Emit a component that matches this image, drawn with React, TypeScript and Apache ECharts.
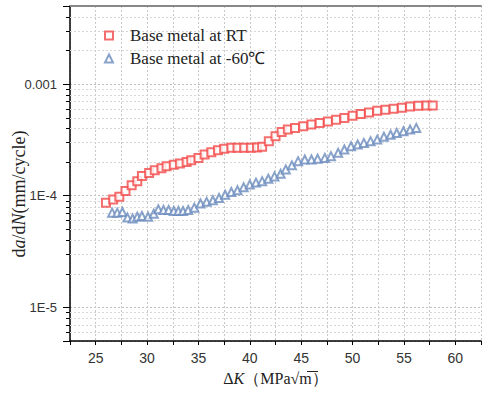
import React, { useEffect, useRef } from "react";
import * as echarts from "echarts";

// ΔK (MPa√m)
const rtK = [26.0, 26.7, 27.3, 27.9, 28.5, 29.05, 29.5, 30.2, 30.75, 31.4, 31.9, 32.6, 33.2, 33.85, 34.3, 35.0, 35.6, 36.25, 36.9, 37.5, 38.2, 38.8, 39.45, 40.1, 40.7, 41.2, 41.85, 42.5, 43.1, 43.7, 44.4, 45.2, 46.0, 46.8, 47.6, 48.4, 49.2, 50.0, 50.8, 51.6, 52.4, 53.2, 54.0, 54.8, 55.6, 56.4, 57.2, 57.8];
// da/dN (mm/cycle)
const rtRate = [8.67e-5, 9.27e-5, 9.8e-5, 1.10e-4, 1.24e-4, 1.35e-4, 1.50e-4, 1.60e-4, 1.69e-4, 1.76e-4, 1.84e-4, 1.89e-4, 1.94e-4, 2.00e-4, 2.08e-4, 2.18e-4, 2.34e-4, 2.45e-4, 2.55e-4, 2.63e-4, 2.69e-4, 2.69e-4, 2.69e-4, 2.69e-4, 2.70e-4, 2.74e-4, 3.08e-4, 3.40e-4, 3.72e-4, 3.91e-4, 4.05e-4, 4.18e-4, 4.34e-4, 4.49e-4, 4.63e-4, 4.80e-4, 4.97e-4, 5.21e-4, 5.40e-4, 5.57e-4, 5.78e-4, 5.90e-4, 6.01e-4, 6.14e-4, 6.31e-4, 6.40e-4, 6.44e-4, 6.44e-4];

const lowK = [26.6, 27.1, 27.6, 28.1, 28.6, 29.05, 29.5, 30.1, 30.65, 31.1, 31.6, 32.1, 32.6, 33.05, 33.5, 34.0, 34.6, 35.2, 35.8, 36.4, 37.0, 37.6, 38.2, 38.8, 39.4, 40.0, 40.6, 41.2, 41.8, 42.4, 43.0, 43.5, 44.1, 44.7, 45.35, 46.0, 46.6, 47.3, 47.9, 48.6, 49.2, 49.85, 50.5, 51.1, 51.75, 52.4, 53.05, 53.7, 54.3, 54.95, 55.6, 56.2];
const lowRate = [7.05e-5, 7.05e-5, 7.14e-5, 6.37e-5, 6.24e-5, 6.49e-5, 6.58e-5, 6.49e-5, 6.90e-5, 7.55e-5, 7.45e-5, 7.45e-5, 7.30e-5, 7.30e-5, 7.30e-5, 7.45e-5, 7.82e-5, 8.51e-5, 8.81e-5, 9.12e-5, 9.55e-5, 1.02e-4, 1.08e-4, 1.12e-4, 1.19e-4, 1.26e-4, 1.31e-4, 1.35e-4, 1.42e-4, 1.49e-4, 1.57e-4, 1.72e-4, 1.87e-4, 2.04e-4, 2.11e-4, 2.11e-4, 2.14e-4, 2.18e-4, 2.26e-4, 2.42e-4, 2.59e-4, 2.77e-4, 2.87e-4, 2.97e-4, 3.08e-4, 3.18e-4, 3.37e-4, 3.52e-4, 3.65e-4, 3.78e-4, 3.91e-4, 4.05e-4];

const seriesNames = ["Base metal at RT", "Base metal at -60\u2103"];
const xMin = 22.5;
const xMax = 62.5;
const yMin = 5e-6;
const yMax = 5e-3;
const yMinorTicks = [6e-6, 7e-6, 8e-6, 9e-6, 2e-5, 3e-5, 4e-5, 5e-5, 6e-5, 7e-5, 8e-5, 9e-5, 2e-4, 3e-4, 4e-4, 5e-4, 6e-4, 7e-4, 8e-4, 9e-4, 2e-3, 3e-3, 4e-3];

const zip = (xs: number[], ys: number[]) => xs.map((x, i) => [x, ys[i]]);

export default function App() {
  const ref = useRef<HTMLDivElement>(null);
  useEffect(() => {
    if (!ref.current) return;
    const chart = echarts.init(ref.current, null, { renderer: "svg" });
    const serif = "'Liberation Serif', 'Times New Roman', serif";
    const sans = "'Liberation Sans', Arial, sans-serif";
    chart.setOption({
      animation: false,
      backgroundColor: "#fff",
      grid: { left: 70, right: -3, top: 6, bottom: 55, containLabel: false },
      legend: {
        orient: "vertical",
        left: 104,
        top: 27,
        padding: 0,
        itemWidth: 8,
        itemHeight: 8,
        itemGap: 6,
        data: seriesNames,
        textStyle: { fontFamily: serif, fontSize: 17, color: "#222", lineHeight: 16, padding: [0, 0, 0, 12] },
      },
      graphic: [
        {
          type: "text",
          x: 18.5,
          y: 194,
          rotation: Math.PI / 2,
          silent: true,
          style: {
            text: "{n|d}{i|a}{n|/d}{i|N}{n|(mm/cycle)}",
            align: "center",
            verticalAlign: "middle",
            rich: {
              n: { fontFamily: serif, fontSize: 18, fill: "#222" },
              i: { fontFamily: serif, fontSize: 18, fill: "#222", fontStyle: "italic" },
            },
          },
        },
        {
          type: "line",
          silent: true,
          shape: { x1: 307, y1: 371.5, x2: 318, y2: 371.5 },
          style: { stroke: "#222", lineWidth: 1 },
        },
      ],
      xAxis: [
        {
          type: "value",
          min: xMin,
          max: xMax,
          interval: 2.5,
          name: "{n|\u0394}{i|K}{n|\uFF08MPa\u221Am\uFF09}",
          nameLocation: "middle",
          nameGap: 29,
          nameTextStyle: {
            rich: {
              n: { fontFamily: serif, fontSize: 16, color: "#222" },
              i: { fontFamily: serif, fontSize: 16, color: "#222", fontStyle: "italic" },
            },
          },
          axisLine: { lineStyle: { color: "#000", width: 1.5 } },
          axisTick: { length: 4, lineStyle: { color: "#000" } },
          axisLabel: {
            margin: 10,
            fontFamily: sans,
            fontSize: 14,
            color: "#333",
            formatter: (v: number) => (Math.abs(v % 5) < 1e-9 ? String(v) : ""),
          },
          splitLine: { show: true, lineStyle: { color: "#c8c8c8", type: [2, 2], width: 1 } },
        },
        {
          type: "value",
          position: "top",
          min: xMin,
          max: xMax,
          axisLine: { show: true, lineStyle: { color: "#888", width: 2 } },
          axisTick: { show: false },
          axisLabel: { show: false },
          splitLine: { show: false },
        },
      ],
      yAxis: {
        type: "log",
        logBase: 10,
        min: yMin,
        max: yMax,
        axisLine: { show: true, lineStyle: { color: "#000", width: 1.5 } },
        axisTick: { length: 7, lineStyle: { color: "#000" } },
        axisLabel: {
          margin: 13,
          fontFamily: sans,
          fontSize: 13,
          color: "#333",
          formatter: (v: number) => {
            const e = Math.log10(v);
            const r = Math.round(e);
            if (Math.abs(e - r) > 1e-6) return "";
            return r === -3 ? "0.001" : "1E" + r;
          },
        },
        splitLine: { show: true, lineStyle: { color: "#c0c0c0", type: [2, 2], width: 1 } },
      },
      series: [
        {
          type: "custom",
          name: "minor",
          silent: true,
          z: 1,
          clip: false,
          data: yMinorTicks.map((v) => [xMin, v]),
          encode: { x: 0, y: 1 },
          renderItem: (params: any, api: any) => {
            const v = api.value(1);
            const pt = api.coord([xMin, v]);
            const cs = params.coordSys;
            const y = Math.round(pt[1]) + 0.5;
            return {
              type: "group",
              children: [
                { type: "line", shape: { x1: cs.x, y1: y, x2: cs.x + cs.width, y2: y }, style: { stroke: "#d6d6d6", lineWidth: 1, lineDash: [2, 2] } },
                { type: "line", shape: { x1: cs.x - 4, y1: y, x2: cs.x, y2: y }, style: { stroke: "#000", lineWidth: 1 } },
              ],
            };
          },
        },
        {
          type: "scatter",
          name: seriesNames[0],
          symbol: "emptyRect",
          symbolSize: 8,
          z: 3,
          itemStyle: { color: "#f24a4a", borderColor: "#f24a4a", borderWidth: 1 },
          data: zip(rtK, rtRate),
        },
        {
          type: "scatter",
          name: seriesNames[1],
          symbol: "emptyTriangle",
          symbolSize: 8,
          z: 3,
          itemStyle: { color: "#6a8bbd", borderColor: "#6a8bbd", borderWidth: 1 },
          data: zip(lowK, lowRate),
        },
      ],
    });
    return () => chart.dispose();
  }, []);
  return <div ref={ref} style={{ position: "fixed", left: 0, top: 0, width: 484, height: 396 }} />;
}
